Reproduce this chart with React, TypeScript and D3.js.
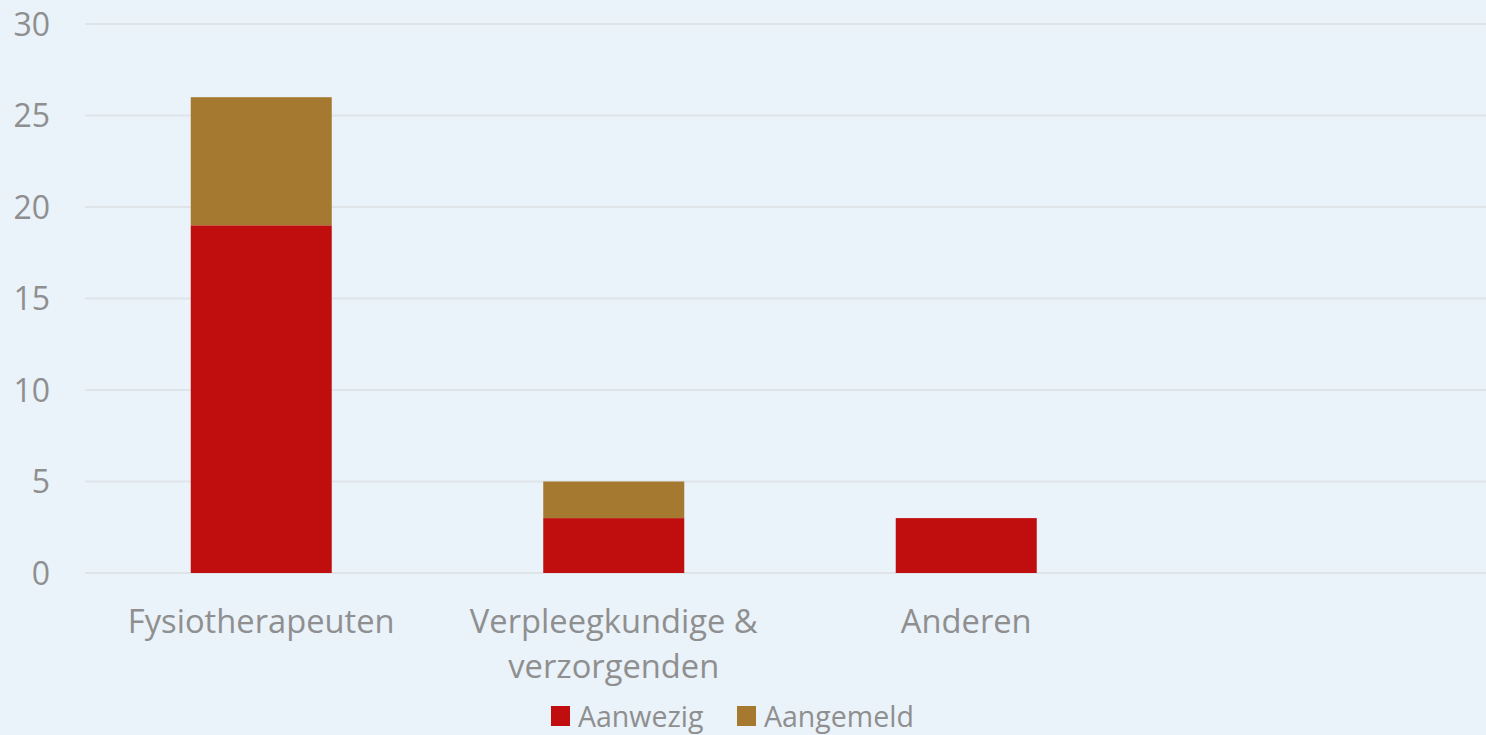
import React, { useRef, useEffect } from "react";
import * as d3 from "d3";

const categories = ["Fysiotherapeuten", "Verpleegkundige & verzorgenden", "Anderen", ""];
const aanwezig = [19, 3, 3, 0];
const aangemeld = [7, 2, 0, 0];
const seriesNames = ["Aanwezig", "Aangemeld"];
const yTicks = [0, 5, 10, 15, 20, 25, 30];

const colors = ["#C00E0F", "#A57A30"];
const textColor = "#8F8F8F";
const font = "'Open Sans', sans-serif";

export default function App() {
    const svgRef = useRef(null);
    const width = 1486, height = 735;
    const margin = { top: 24, right: 0, bottom: 162, left: 85 };

    useEffect(() => {
        document.body.style.margin = "0";
        const svg = d3.select(svgRef.current);
        svg.selectAll("*").remove();

        svg.append("rect").attr("width", width).attr("height", height).attr("fill", "#EAF2FA");

        // plot area runs a little past the right edge of the picture
        const x = d3.scaleBand()
            .domain(categories.map((d, i) => String(i)))
            .range([margin.left, 1495])
            .paddingInner(0.6)
            .paddingOuter(0.3);

        const y = d3.scaleLinear()
            .domain([0, 30])
            .range([height - margin.bottom, margin.top]);

        // gridlines
        svg.append("g").selectAll("line")
            .data(yTicks)
            .join("line")
            .attr("x1", margin.left)
            .attr("x2", width - margin.right)
            .attr("y1", d => y(d))
            .attr("y2", d => y(d))
            .attr("stroke", "#DFE4E9")
            .attr("stroke-width", 2);

        // y labels
        svg.append("g").selectAll("text")
            .data(yTicks)
            .join("text")
            .attr("x", 50)
            .attr("y", d => y(d))
            .attr("dy", "0.36em")
            .attr("text-anchor", "end")
            .attr("font-family", font)
            .attr("font-size", 32)
            .attr("fill", textColor)
            .text(d => d);

        // stacked bars
        const rows = categories.map((c, i) => ({ key: String(i), Aanwezig: aanwezig[i], Aangemeld: aangemeld[i] }));
        const stack = d3.stack().keys(seriesNames)(rows as any);

        svg.append("g").selectAll("g")
            .data(stack)
            .join("g")
            .attr("fill", (d, i) => colors[i])
            .selectAll("rect")
            .data(d => d)
            .join("rect")
            .attr("x", (d: any) => x(d.data.key))
            .attr("width", x.bandwidth())
            .attr("y", d => y(d[1]))
            .attr("height", d => y(d[0]) - y(d[1]));

        // category labels with wrapping
        const labels = svg.append("g");
        categories.forEach((c, i) => {
            const cx = x(String(i)) + x.bandwidth() / 2;
            const t = labels.append("text")
                .attr("x", cx)
                .attr("y", 633)
                .attr("text-anchor", "middle")
                .attr("font-family", font)
                .attr("font-size", 32.7)
                .attr("fill", textColor);
            const words = c.split(" ");
            let line = [];
            let tspan = t.append("tspan").attr("x", cx).attr("dy", 0);
            words.forEach(w => {
                line.push(w);
                tspan.text(line.join(" "));
                if ((tspan.node() as any).getComputedTextLength() > x.step() * 0.9 && line.length > 1) {
                    line.pop();
                    tspan.text(line.join(" "));
                    line = [w];
                    tspan = t.append("tspan")
                        .attr("x", cx)
                        .attr("dy", 45)
                        .text(w);
                }
            });
        });

        // legend
        const legend = svg.append("g");
        const legendX = [551, 737];
        seriesNames.forEach((s, i) => {
            legend.append("rect")
                .attr("x", legendX[i])
                .attr("y", 706)
                .attr("width", 19)
                .attr("height", 20)
                .attr("fill", colors[i]);
            legend.append("text")
                .attr("x", legendX[i] + 27)
                .attr("y", 727)
                .attr("font-family", font)
                .attr("font-size", 28.5)
                .attr("fill", textColor)
                .text(s);
        });
    }, []);

    return (
        <div>
            <svg ref={svgRef} width={width} height={height} style={{ display: "block" }} />
        </div>
    );
}
